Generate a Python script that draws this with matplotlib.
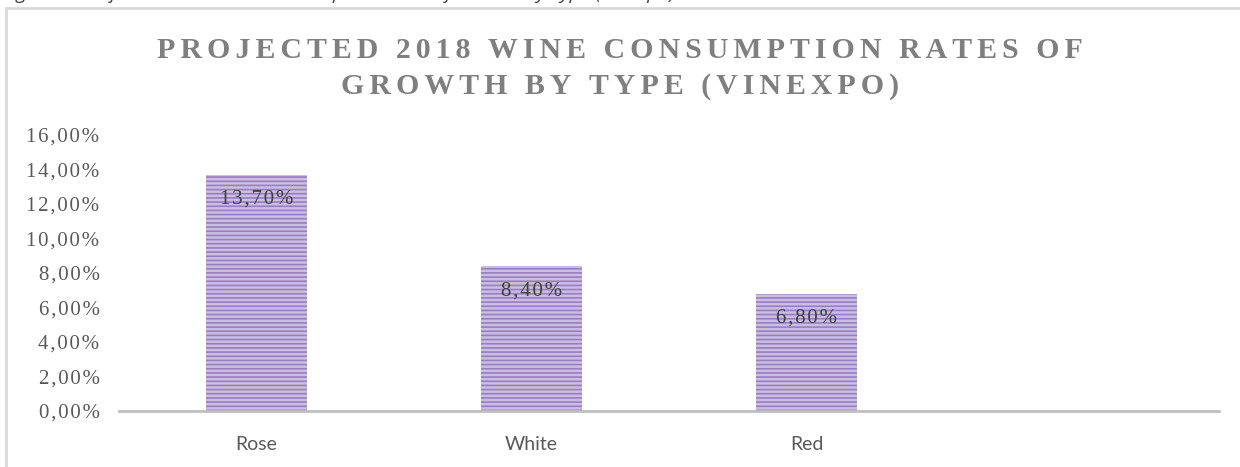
import matplotlib.pyplot as plt
from matplotlib.patches import Rectangle
from matplotlib.ticker import FuncFormatter, MultipleLocator

# growth rates by wine type (percent); the fourth slot is empty
types = ['Rose', 'White', 'Red', '']
growth = [13.70, 8.40, 6.80, None]

title_lines = ['PROJECTED 2018 WINE CONSUMPTION RATES OF',
               'GROWTH BY TYPE (VINEXPO)']
caption = 'Figure 1: Projected 2018 Wine Consumption Rates of Growth by Type (Vinexpo)'

HAIR = '\u200a'


def spaced(s, sep=HAIR):
    # imitate the wide letter spacing of the Office chart fonts
    return sep.join(s)


def pct(v):
    return '{:.2f}%'.format(v).replace('.', ',')


plt.rcParams['hatch.linewidth'] = 1.2

fig = plt.figure(figsize=(12.4, 4.67), dpi=100)

# chart area border (light gray, only top and left visible)
fig.patches.append(Rectangle((6 / 1240, -0.05), 1.1, (459 / 467) + 0.05,
                             transform=fig.transFigure, fill=False,
                             edgecolor='#d9d9d9', linewidth=2))

# caption above the chart, mostly cut off by the top edge
fig.text(0.002, 1.012, caption, ha='left', va='center', fontsize=14,
         style='italic', color='#404040', family='Open Sans')

ax = fig.add_axes([119 / 1240, 56 / 467, 1100 / 1240, 276 / 467])

x = list(range(len(types)))
vals = [v if v is not None else 0 for v in growth]
bars = ax.bar(x, vals, width=0.37, color='#cbbde3', edgecolor='#9780c0',
              hatch='----', linewidth=0)
for b, v in zip(bars, growth):
    if v is None:
        continue
    ax.annotate(spaced(pct(v)), (b.get_x() + b.get_width() / 2, v),
                xytext=(0, -11), textcoords='offset points', ha='center',
                va='top', fontsize=15, family='Liberation Serif', color='#404040')

ax.set_xlim(-0.5, len(types) - 0.5)
ax.set_ylim(0, 16)
ax.yaxis.set_major_locator(MultipleLocator(2))
ax.yaxis.set_major_formatter(FuncFormatter(lambda v, p: spaced(pct(v))))
ax.set_xticks(x)
ax.set_xticklabels(types)
for lbl in ax.get_yticklabels():
    lbl.set_family('Liberation Serif')
    lbl.set_fontsize(15)
    lbl.set_color('#595959')
for lbl in ax.get_xticklabels():
    lbl.set_family('Lato')
    lbl.set_fontsize(14)
    lbl.set_color('#595959')
ax.tick_params(axis='both', length=0)
ax.tick_params(axis='y', pad=14)
ax.tick_params(axis='x', pad=18)

for side in ['left', 'right', 'top']:
    ax.spines[side].set_visible(False)
ax.spines['bottom'].set_color('#bfbfbf')
ax.spines['bottom'].set_linewidth(2)

# title, two centred lines
for i, line in enumerate(title_lines):
    fig.text(0.5, 1 - (50 + 36 * i) / 467, spaced(line, HAIR * 2),
             ha='center', va='center', fontsize=21.5, fontweight='bold',
             family='Liberation Serif', color='#7f7f7f')

fig.savefig('out.png', dpi=100)
